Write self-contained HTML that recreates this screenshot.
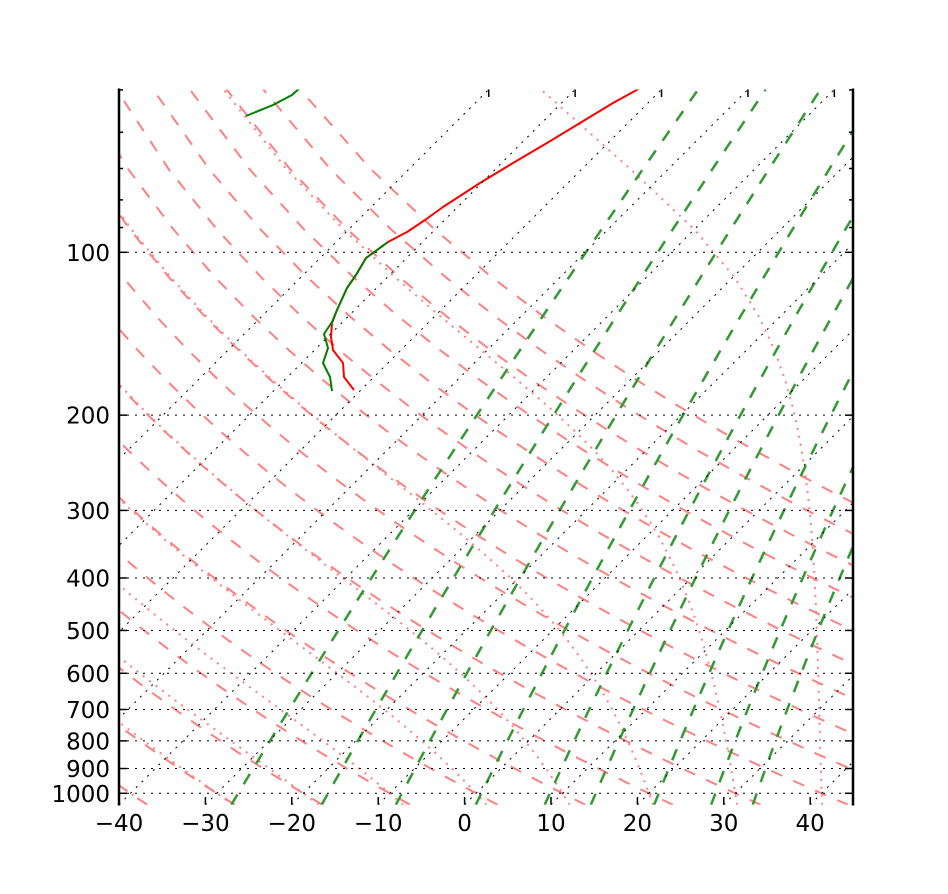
<!DOCTYPE html>
<html><head><meta charset="utf-8"><style>
html,body{margin:0;padding:0;background:#fff;}
svg{display:block;}
text{font-family:"DejaVu Sans","Liberation Sans",sans-serif;font-size:23px;fill:#000;}
</style></head><body>
<svg id="c" width="948" height="894" viewBox="0 0 948 894" xmlns="http://www.w3.org/2000/svg">
<rect x="0" y="0" width="948" height="894" fill="#fff"/>
<defs><clipPath id="clip"><rect x="119" y="89.44" width="734.4" height="715.32"/></clipPath></defs>
<g id="plot" clip-path="url(#clip)"></g>
<g id="prof" clip-path="url(#clip)" fill="none" stroke-linejoin="round">
<polyline stroke="#ff0000" stroke-width="2" points="354,390 344,377 343,363 333,350 331,337 332,323 337,310 347,288 356,275 366,258 377,250 388,242 407,232 425,220 443,207 480,183 513,163 547,143 580,123 613,103 643,86.5"/>
<polyline stroke="#008000" stroke-width="2" points="332,391 330,377 323,363 328,348 324,334 332,322 337,310 347,288 356,275 366,258 377,250 388,242"/>
<polyline stroke="#008000" stroke-width="2" points="246,116 273,105 292,95 302,86"/>
</g>
<g id="grid" clip-path="url(#clip)" stroke="#000" stroke-width="1" stroke-dasharray="2 6" fill="none">
<line x1="119" y1="252.3" x2="854" y2="252.3"/>
<line x1="119" y1="415.16" x2="854" y2="415.16"/>
<line x1="119" y1="510.42" x2="854" y2="510.42"/>
<line x1="119" y1="578.01" x2="854" y2="578.01"/>
<line x1="119" y1="630.44" x2="854" y2="630.44"/>
<line x1="119" y1="673.28" x2="854" y2="673.28"/>
<line x1="119" y1="709.5" x2="854" y2="709.5"/>
<line x1="119" y1="740.87" x2="854" y2="740.87"/>
<line x1="119" y1="768.54" x2="854" y2="768.54"/>
<line x1="119" y1="793.3" x2="854" y2="793.3"/>
<line x1="-226.6" y1="804.76" x2="488.72" y2="89.44"/>
<line x1="-140.2" y1="804.76" x2="575.12" y2="89.44"/>
<line x1="-53.8" y1="804.76" x2="661.52" y2="89.44"/>
<line x1="32.6" y1="804.76" x2="747.92" y2="89.44"/>
<line x1="119" y1="804.76" x2="834.32" y2="89.44"/>
<line x1="205.4" y1="804.76" x2="920.72" y2="89.44"/>
<line x1="291.8" y1="804.76" x2="1007.12" y2="89.44"/>
<line x1="378.2" y1="804.76" x2="1093.52" y2="89.44"/>
<line x1="464.6" y1="804.76" x2="1179.92" y2="89.44"/>
<line x1="551" y1="804.76" x2="1266.32" y2="89.44"/>
<line x1="637.4" y1="804.76" x2="1352.72" y2="89.44"/>
<line x1="723.8" y1="804.76" x2="1439.12" y2="89.44"/>
<line x1="810.2" y1="804.76" x2="1525.52" y2="89.44"/>
</g>
<g id="axes" stroke="#000" fill="none">
<line x1="119" y1="88.5" x2="119" y2="805.5" stroke-width="2.5"/>
<line x1="853" y1="88.5" x2="853" y2="805.5" stroke-width="2.5"/>
<g stroke-width="1.5">
<line x1="119" y1="252.3" x2="127" y2="252.3"/>
<line x1="119" y1="415.16" x2="127" y2="415.16"/>
<line x1="119" y1="510.42" x2="127" y2="510.42"/>
<line x1="119" y1="578.01" x2="127" y2="578.01"/>
<line x1="119" y1="630.44" x2="127" y2="630.44"/>
<line x1="119" y1="673.28" x2="127" y2="673.28"/>
<line x1="119" y1="709.5" x2="127" y2="709.5"/>
<line x1="119" y1="740.87" x2="127" y2="740.87"/>
<line x1="119" y1="768.54" x2="127" y2="768.54"/>
<line x1="119" y1="793.3" x2="127" y2="793.3"/>
<line x1="119" y1="89.94" x2="123" y2="89.94"/>
<line x1="119" y1="132.28" x2="123" y2="132.28"/>
<line x1="119" y1="168.5" x2="123" y2="168.5"/>
<line x1="119" y1="199.87" x2="123" y2="199.87"/>
<line x1="119" y1="227.54" x2="123" y2="227.54"/>
<line x1="853" y1="252.3" x2="845" y2="252.3"/>
<line x1="853" y1="415.16" x2="845" y2="415.16"/>
<line x1="853" y1="510.42" x2="845" y2="510.42"/>
<line x1="853" y1="578.01" x2="845" y2="578.01"/>
<line x1="853" y1="630.44" x2="845" y2="630.44"/>
<line x1="853" y1="673.28" x2="845" y2="673.28"/>
<line x1="853" y1="709.5" x2="845" y2="709.5"/>
<line x1="853" y1="740.87" x2="845" y2="740.87"/>
<line x1="853" y1="768.54" x2="845" y2="768.54"/>
<line x1="853" y1="793.3" x2="845" y2="793.3"/>
<line x1="853" y1="89.94" x2="849" y2="89.94"/>
<line x1="853" y1="132.28" x2="849" y2="132.28"/>
<line x1="853" y1="168.5" x2="849" y2="168.5"/>
<line x1="853" y1="199.87" x2="849" y2="199.87"/>
<line x1="853" y1="227.54" x2="849" y2="227.54"/>
<line x1="205.4" y1="804.76" x2="205.4" y2="797"/>
<line x1="291.8" y1="804.76" x2="291.8" y2="797"/>
<line x1="378.2" y1="804.76" x2="378.2" y2="797"/>
<line x1="464.6" y1="804.76" x2="464.6" y2="797"/>
<line x1="551" y1="804.76" x2="551" y2="797"/>
<line x1="637.4" y1="804.76" x2="637.4" y2="797"/>
<line x1="723.8" y1="804.76" x2="723.8" y2="797"/>
<line x1="810.2" y1="804.76" x2="810.2" y2="797"/>
<line x1="488.72" y1="89.44" x2="488.72" y2="97"/>
<line x1="575.12" y1="89.44" x2="575.12" y2="97"/>
<line x1="661.52" y1="89.44" x2="661.52" y2="97"/>
<line x1="747.92" y1="89.44" x2="747.92" y2="97"/>
<line x1="834.32" y1="89.44" x2="834.32" y2="97"/>
</g>
</g>
<g id="labels">
<text x="110" y="260.8" text-anchor="end">100</text>
<text x="110" y="423.7" text-anchor="end">200</text>
<text x="110" y="518.9" text-anchor="end">300</text>
<text x="110" y="586.5" text-anchor="end">400</text>
<text x="110" y="638.9" text-anchor="end">500</text>
<text x="110" y="681.8" text-anchor="end">600</text>
<text x="110" y="718" text-anchor="end">700</text>
<text x="110" y="749.4" text-anchor="end">800</text>
<text x="110" y="777" text-anchor="end">900</text>
<text x="110" y="801.8" text-anchor="end">1000</text>
<text x="119" y="831" text-anchor="middle">−40</text>
<text x="205.4" y="831" text-anchor="middle">−30</text>
<text x="291.8" y="831" text-anchor="middle">−20</text>
<text x="378.2" y="831" text-anchor="middle">−10</text>
<text x="464.6" y="831" text-anchor="middle">0</text>
<text x="551" y="831" text-anchor="middle">10</text>
<text x="637.4" y="831" text-anchor="middle">20</text>
<text x="723.8" y="831" text-anchor="middle">30</text>
<text x="810.2" y="831" text-anchor="middle">40</text>
</g>
</svg>
<script>
(function(){
var NS='http://www.w3.org/2000/svg';
var plot=document.getElementById('plot');
function py(p){return 793.3+541*Math.log10(p/1000);}
var YB=py(1050);
function px(T,p){return 119+(T+40)*8.64+(YB-py(p));}
function addPath(pts,stroke,w,dash){
  var el=document.createElementNS(NS,'path');
  var d='';
  for(var i=0;i<pts.length;i++){d+=(i?'L':'M')+pts[i][0].toFixed(2)+' '+pts[i][1].toFixed(2);}
  el.setAttribute('d',d);
  el.setAttribute('fill','none');
  el.setAttribute('stroke',stroke);
  el.setAttribute('stroke-width',w);
  if(dash)el.setAttribute('stroke-dasharray',dash);
  plot.appendChild(el);
}
var P=[];for(var i=0;i<50;i++)P.push(1050+(50-1050)*i/49);
for(var th=-50;th<=130;th+=10){
  var K=th+273.15;
  var pts=[];
  for(var j=0;j<P.length;j++){pts.push([px(K*Math.pow(P[j]/1000,0.2857)-273.15,P[j]),py(P[j])]);}
  addPath(pts,'#ff8080',2,'12 12');
}
function es(T){return 6.112*Math.exp(17.67*(T-273.15)/(T-29.65));}
function f(p,T){var e=es(T);var r=0.965*0.622*e/p;return (287*T+2.501e6*r)/(1005+2.501e6*2.501e6*r*0.622/(287*T*T))/p;}
function integ(T0,p0,p1){
  var n=Math.max(1,Math.ceil(Math.abs(p1-p0)/0.5));var h=(p1-p0)/n;var T=T0,p=p0;
  for(var k=0;k<n;k++){
    var k1=f(p,T),k2=f(p+h/2,T+h/2*k1),k3=f(p+h/2,T+h/2*k2),k4=f(p+h,T+h*k3);
    T+=h/6*(k1+2*k2+2*k3+k4);p+=h;
  }
  return T;
}
for(var t0=-50;t0<=40;t0+=10){
  var T=integ(t0+273.15,1000,1050);
  var mp=[[px(T-273.15,1050),py(1050)]];
  for(var m=1;m<P.length;m++){
    T=integ(T,P[m-1],P[m]);
    mp.push([px(T-273.15,P[m]),py(P[m])]);
  }
  addPath(mp,'#ff8080',2,'2 6');
}
var W=[0.0004,0.001,0.002,0.004,0.007,0.01,0.016,0.024,0.032];
for(var q=0;q<W.length;q++){
  var w=W[q];var wp=[];
  for(var n2=0;n2<P.length;n2++){
    var p=P[n2];var e=p*w/(0.622+w);var v=Math.log(e/6.112);
    wp.push([px(243.5*v/(17.67-v),p),py(p)]);
  }
  addPath(wp,'#339933',2.5,'12 12');
}
})();
</script>
</body></html>
